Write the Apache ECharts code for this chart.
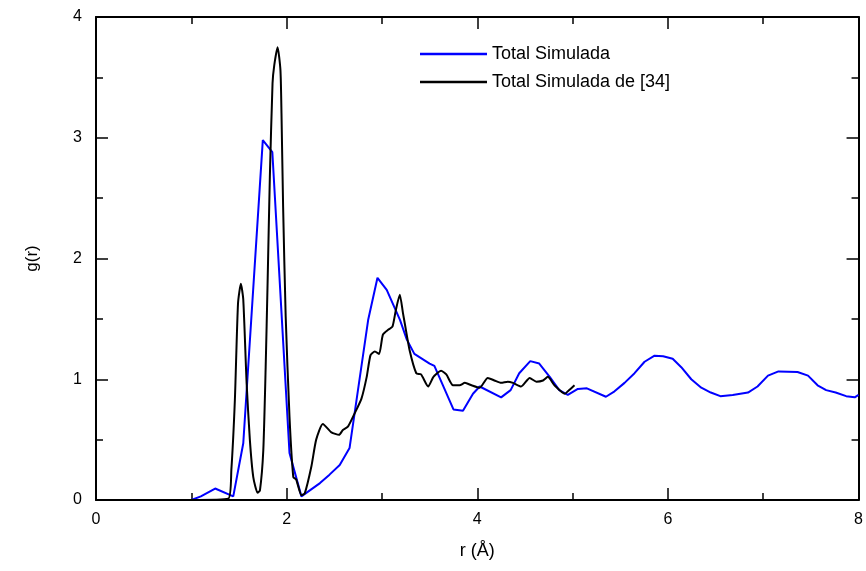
<!DOCTYPE html>
<html>
<head>
<meta charset="utf-8">
<script src="https://cdn.jsdelivr.net/npm/echarts@6/dist/echarts.min.js"></script>
<style>html,body{margin:0;padding:0;background:#fff}#c{width:866px;height:571px}</style>
</head>
<body>
<div id="c"></div>
<script>
var seriesNames = ['Total Simulada', 'Total Simulada de [34]'];
var xTitle = 'r (\u00C5)';
var yTitle = 'g(r)';

var blueR = [0,0.5,1.0,1.1,1.25,1.44,1.545,1.75,1.85,2.03,2.155,2.35,2.45,2.557,2.66,2.855,2.953,3.05,3.19,3.26,3.34,3.5,3.55,3.75,3.85,3.955,4.025,4.25,4.35,4.44,4.556,4.65,4.76,4.86,4.95,5.055,5.15,5.35,5.44,5.545,5.65,5.755,5.86,5.95,6.05,6.14,6.245,6.35,6.45,6.55,6.68,6.84,6.94,7.05,7.16,7.36,7.47,7.57,7.66,7.76,7.87,7.96,8.0];
var blueG = [0,0,0.0,0.03,0.095,0.03,0.47,2.98,2.88,0.39,0.03,0.14,0.21,0.29,0.43,1.49,1.84,1.74,1.49,1.33,1.21,1.13,1.11,0.75,0.74,0.88,0.94,0.85,0.91,1.05,1.15,1.13,1.02,0.91,0.87,0.92,0.925,0.855,0.90,0.97,1.05,1.145,1.195,1.19,1.17,1.10,1.00,0.93,0.89,0.86,0.87,0.89,0.94,1.03,1.065,1.06,1.03,0.95,0.91,0.89,0.86,0.85,0.87];

var blackR = [0,1.0,1.387,1.42,1.457,1.49,1.52,1.545,1.58,1.614,1.65,1.695,1.72,1.755,1.78,1.80,1.824,1.852,1.87,1.905,1.935,1.946,1.963,1.99,2.03,2.07,2.10,2.156,2.19,2.26,2.31,2.38,2.47,2.55,2.59,2.645,2.715,2.785,2.84,2.88,2.925,2.97,3.01,3.065,3.11,3.145,3.187,3.22,3.24,3.29,3.36,3.41,3.485,3.54,3.62,3.675,3.745,3.815,3.87,3.94,4.025,4.11,4.18,4.25,4.32,4.375,4.46,4.55,4.62,4.69,4.74,4.81,4.92,4.95,5.02];
var blackG = [0,0,0.01,0.25,0.83,1.63,1.79,1.66,0.97,0.50,0.19,0.06,0.08,0.41,1.10,1.79,2.68,3.45,3.60,3.75,3.56,3.2,2.43,1.52,0.69,0.19,0.17,0.04,0.055,0.28,0.50,0.63,0.56,0.54,0.58,0.61,0.72,0.84,1.02,1.20,1.23,1.21,1.37,1.41,1.435,1.57,1.70,1.55,1.46,1.24,1.05,1.04,0.94,1.02,1.07,1.04,0.95,0.95,0.97,0.95,0.93,1.01,0.99,0.97,0.98,0.97,0.94,1.01,0.98,0.99,1.02,0.95,0.88,0.90,0.95];

function pairs(xs, ys){ return xs.map(function(x,i){ return [x, ys[i]]; }); }

var font = 'Arial, "Liberation Sans", sans-serif';
var axisLine = {show:true, onZero:false, lineStyle:{color:'#000', width:2}};
var tick = {show:true, inside:true, length:12, lineStyle:{color:'#000', width:1.5}};
var minor = {show:true, splitNumber:2, length:7, lineStyle:{color:'#000', width:1.5}};

var chart = echarts.init(document.getElementById('c'), null, {renderer:'canvas'});
chart.setOption({
  animation:false,
  backgroundColor:'#fff',
  grid:{left:96, right:7, top:17, bottom:71, containLabel:false},
  legend:{
    orient:'vertical', left:415, top:40, itemWidth:67, itemHeight:14, itemGap:10,
    textStyle:{fontFamily:font, fontSize:18, color:'#000'},
    data:[{name:seriesNames[0], icon:'path://M0,0L1,0L1,0.04L0,0.04Z'},{name:seriesNames[1], icon:'path://M0,0L1,0L1,0.04L0,0.04Z'}]
  },
  xAxis:[{
    type:'value', min:0, max:8, interval:2, position:'bottom',
    name:xTitle, nameLocation:'middle', nameGap:42,
    nameTextStyle:{fontFamily:font, fontSize:18, color:'#000'},
    axisLine:axisLine, axisTick:tick, minorTick:minor,
    axisLabel:{fontFamily:font, fontSize:16, color:'#000', margin:12},
    splitLine:{show:false}, minorSplitLine:{show:false}
  },{
    type:'value', min:0, max:8, interval:2, position:'top',
    axisLine:axisLine, axisTick:tick, minorTick:minor,
    axisLabel:{show:false}, splitLine:{show:false}
  }],
  yAxis:[{
    type:'value', min:0, max:4, interval:1, position:'left',
    name:yTitle, nameLocation:'middle', nameGap:55, nameRotate:90,
    nameTextStyle:{fontFamily:font, fontSize:17, color:'#000'},
    axisLine:axisLine, axisTick:tick, minorTick:minor,
    axisLabel:{fontFamily:font, fontSize:16, color:'#000', margin:14},
    splitLine:{show:false}
  },{
    type:'value', min:0, max:4, interval:1, position:'right',
    axisLine:axisLine, axisTick:tick, minorTick:minor,
    axisLabel:{show:false}, splitLine:{show:false}
  }],
  series:[{
    name:seriesNames[0], type:'line', data:pairs(blueR, blueG),
    symbol:'none', smooth:false, clip:false, color:'#0000ff',
    lineStyle:{color:'#0000ff', width:2}, z:3
  },{
    name:seriesNames[1], type:'line', data:pairs(blackR, blackG),
    symbol:'none', smooth:0.2, clip:false, color:'#000',
    lineStyle:{color:'#000', width:2}, z:4
  }]
});
</script>
</body>
</html>
